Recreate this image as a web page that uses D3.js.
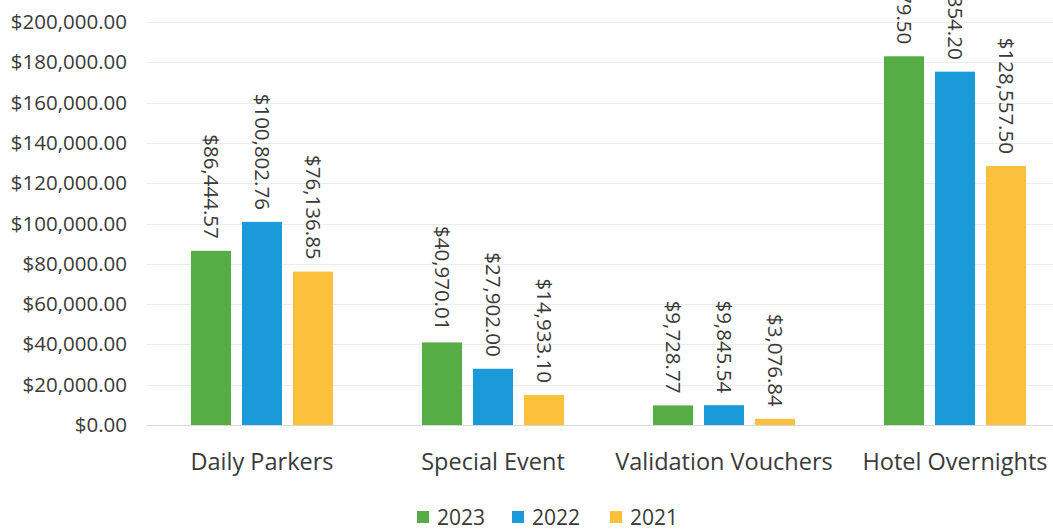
<!DOCTYPE html>
<html>
<head>
<meta charset="utf-8">
<script src="https://cdn.jsdelivr.net/npm/d3@7"></script>
<style>
  html, body { margin: 0; padding: 0; background: #ffffff; }
  svg { display: block; }
  text { font-family: "Open Sans", "Noto Sans", sans-serif; fill: #3a3a3a; }
</style>
</head>
<body>
<svg id="chart" width="1053" height="530"></svg>
<script>
// Parking revenue by category and year
const categories = ["Daily Parkers", "Special Event", "Validation Vouchers", "Hotel Overnights"];
const years = ["2023", "2022", "2021"];
const values2023 = [86444.57, 40970.01, 9728.77, 182979.50];
const values2022 = [100802.76, 27902.00, 9845.54, 175354.20];
const values2021 = [76136.85, 14933.10, 3076.84, 128557.50];
const yTicks = [0, 20000, 40000, 60000, 80000, 100000, 120000, 140000, 160000, 180000, 200000];
const colors = ["#56ad45", "#1b9ad9", "#fbc13c"];

const seriesValues = [values2023, values2022, values2021];

const svg = d3.select("#chart");
const fmt = d3.format("$,.2f");

const plot = { left: 146.5, right: 1070.5, top: 22, bottom: 425 };

const y = d3.scaleLinear().domain([0, 200000]).range([plot.bottom, plot.top]);

const x0 = d3.scaleBand()
  .domain(categories)
  .range([plot.left, plot.right])
  .paddingInner(0.385)
  .paddingOuter(0.1925);

const x1 = d3.scaleBand()
  .domain(years)
  .range([0, x0.bandwidth()])
  .paddingInner(0.2157)
  .paddingOuter(0);

// Gridlines
svg.append("g")
  .selectAll("line")
  .data(yTicks)
  .join("line")
  .attr("x1", plot.left)
  .attr("x2", 1053)
  .attr("y1", d => Math.round(y(d)) + 0.5)
  .attr("y2", d => Math.round(y(d)) + 0.5)
  .attr("stroke", d => d === 0 ? "#d9d9d9" : "#ececec")
  .attr("stroke-width", 1);

// Y axis labels
const yAxis = d3.axisLeft(y).tickValues(yTicks).tickFormat(fmt).tickSize(0).tickPadding(0);
const yg = svg.append("g")
  .attr("transform", "translate(127,0)")
  .call(yAxis);
yg.select(".domain").remove();
yg.selectAll("text")
  .attr("font-size", 20.5)
  .attr("fill", "#3a3a3a")
  .style("font-family", "\"Open Sans\", sans-serif");

// Bars
const groups = svg.append("g")
  .selectAll("g")
  .data(categories)
  .join("g")
  .attr("transform", d => `translate(${x0(d)},0)`);

const rows = (c, ci) => years.map((yr, si) => ({ cat: c, year: yr, si, value: seriesValues[si][ci] }));

groups.selectAll("rect")
  .data((c, ci) => rows(c, ci))
  .join("rect")
  .attr("x", d => x1(d.year))
  .attr("width", x1.bandwidth())
  .attr("y", d => y(d.value))
  .attr("height", d => y(0) - y(d.value))
  .attr("fill", d => colors[d.si]);

// Rotated value labels above each bar
groups.selectAll("text.val")
  .data((c, ci) => rows(c, ci))
  .join("text")
  .attr("class", "val")
  .attr("transform", d => `translate(${x1(d.year) + x1.bandwidth() / 2},${y(d.value) - 12}) rotate(90)`)
  .attr("text-anchor", "end")
  .attr("dy", "0.36em")
  .attr("font-size", 20.5)
  .text(d => fmt(d.value));

// Category labels
const xAxis = d3.axisBottom(x0).tickSize(0).tickPadding(0);
const xg = svg.append("g")
  .attr("transform", `translate(0,${plot.bottom})`)
  .call(xAxis);
xg.select(".domain").remove();
xg.selectAll("text")
  .attr("y", 45)
  .attr("dy", 0)
  .attr("font-size", 23.5)
  .attr("fill", "#3a3a3a")
  .style("font-family", "\"Open Sans\", sans-serif");

// Legend
const legendX = [417, 512, 610];
const legend = svg.append("g")
  .selectAll("g")
  .data(years)
  .join("g")
  .attr("transform", (d, i) => `translate(${legendX[i]},517)`);
legend.append("rect")
  .attr("x", 0).attr("y", -6)
  .attr("width", 12).attr("height", 12)
  .attr("fill", (d, i) => colors[i]);
legend.append("text")
  .attr("x", 20)
  .attr("dy", "0.36em")
  .attr("font-size", 21)
  .text(d => d);
</script>
</body>
</html>
